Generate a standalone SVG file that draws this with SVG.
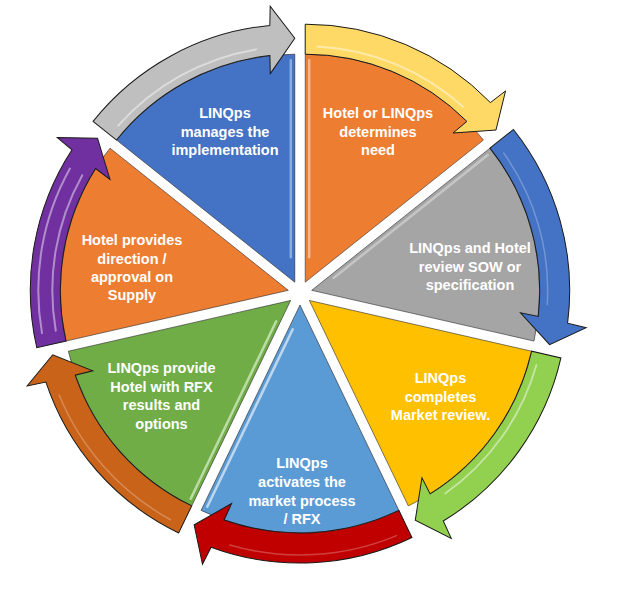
<svg xmlns="http://www.w3.org/2000/svg" xmlns:xlink="http://www.w3.org/1999/xlink" width="644" height="596" viewBox="0 0 644 596">
<style>
.w{stroke:#2b2b2b;stroke-width:0.8;stroke-opacity:0.7}
.a{stroke:#1a1a1a;stroke-width:1;stroke-linejoin:miter}
.hl{fill:none;stroke:#ffffff;stroke-width:2;stroke-opacity:0.45;stroke-linecap:round}
.hl2{fill:none;stroke:#ffffff;stroke-width:1.5;stroke-opacity:0.25;stroke-linecap:round}
.st{stroke-width:2.5;stroke-opacity:0.75;stroke-linecap:round}
text{font-family:"Liberation Sans",Arial,sans-serif;font-weight:bold;font-size:14.5px;fill:#ffffff;text-anchor:middle}
</style>
<defs>
<path id="wedge" d="M0,0 L0,-228 A228,228 0 0 1 178.257,-142.156 Z"/>
<path id="arrow" d="M0,-258 A258,258 0 0 1 185.20,-179.62 L200.36,-191.27 L190.77,-152.13 L147.79,-149.19 L161.67,-160.77 A228,228 0 0 0 0,-228 Z"/>
<path id="hlA" d="M12.35,-235.68 A236,236 0 0 1 157.91,-175.38"/>
<path id="hlB" d="M13.08,-249.66 A250,250 0 0 1 167.28,-185.79"/>
<line id="s0" x1="4" y1="-25" x2="4" y2="-222"/>
<line id="s1" x1="17.05" y1="-18.72" x2="171.07" y2="-141.54"/>
</defs>
<rect width="644" height="596" fill="#ffffff"/>

<g id="node1">
<g transform="translate(305.21,282.19) rotate(0)">
<use xlink:href="#wedge" class="w" fill="#ED7D31"/>
<use xlink:href="#s0" class="st" stroke="#F8CBAD"/>
</g>
<text x="378" y="118">Hotel or LINQps</text>
<text x="378" y="137">determines</text>
<text x="378" y="155">need</text>
</g>

<g id="node2">
<g transform="translate(311.70,290.33) rotate(51.4286)">
<use xlink:href="#wedge" class="w" fill="#A5A5A5"/>
<use xlink:href="#s0" class="st" stroke="#D0D0D0"/>
</g>
<text x="470" y="253">LINQps and Hotel</text>
<text x="470" y="272">review SOW or</text>
<text x="470" y="290">specification</text>
</g>

<g id="node3">
<g transform="translate(309.38,300.48) rotate(102.8571)">
<use xlink:href="#wedge" class="w" fill="#FFC000"/>
</g>
<text x="440.5" y="383">LINQps</text>
<text x="440.5" y="402">completes</text>
<text x="440.5" y="420">Market review.</text>
</g>

<g id="node4">
<g transform="translate(300,305) rotate(154.2857)">
<use xlink:href="#wedge" class="w" fill="#5B9BD5"/>
<use xlink:href="#s1" class="st" stroke="#DEEBF7"/>
</g>
<text x="302" y="468">LINQps</text>
<text x="302" y="487">activates the</text>
<text x="302" y="506">market process</text>
<text x="302" y="524">/ RFX</text>
</g>

<g id="node5">
<g transform="translate(290.62,300.48) rotate(205.7143)">
<use xlink:href="#wedge" class="w" fill="#70AD47"/>
<use xlink:href="#s0" class="st" stroke="#D5ECC6"/>
</g>
<text x="161.5" y="373">LINQps provide</text>
<text x="161.5" y="391.5">Hotel with RFX</text>
<text x="161.5" y="410">results and</text>
<text x="161.5" y="428.5">options</text>
</g>

<g id="node6">
<g transform="translate(288.30,290.33) rotate(257.1429)">
<use xlink:href="#wedge" class="w" fill="#ED7D31"/>
</g>
<text x="132" y="245">Hotel provides</text>
<text x="132" y="263.5">direction /</text>
<text x="132" y="282">approval on</text>
<text x="132" y="300">Supply</text>
</g>

<g id="node7">
<g transform="translate(294.79,282.19) rotate(308.5714)">
<use xlink:href="#wedge" class="w" fill="#4472C4"/>
<use xlink:href="#s1" class="st" stroke="#9DC3E6"/>
</g>
<text x="225" y="118">LINQps</text>
<text x="225" y="137">manages the</text>
<text x="225" y="155">implementation</text>
</g>

<g id="connectors">
<g transform="translate(305.21,282.19) rotate(0)">
<use xlink:href="#arrow" class="a" fill="#FFD966"/>
<use xlink:href="#hlA" class="hl"/>
</g>
<g transform="translate(311.70,290.33) rotate(51.4286)">
<use xlink:href="#arrow" class="a" fill="#4472C4"/>
<use xlink:href="#hlA" class="hl2"/>
</g>
<g transform="translate(309.38,300.48) rotate(102.8571)">
<use xlink:href="#arrow" class="a" fill="#92D050"/>
<use xlink:href="#hlA" class="hl"/>
</g>
<g transform="translate(300,305) rotate(154.2857)">
<use xlink:href="#arrow" class="a" fill="#C00000"/>
<use xlink:href="#hlB" class="hl2"/>
</g>
<g transform="translate(290.62,300.48) rotate(205.7143)">
<use xlink:href="#arrow" class="a" fill="#C9631A"/>
<use xlink:href="#hlB" class="hl2"/>
</g>
<g transform="translate(288.30,290.33) rotate(257.1429)">
<use xlink:href="#arrow" class="a" fill="#7030A0"/>
<use xlink:href="#hlA" class="hl"/>
<use xlink:href="#hlB" class="hl"/>
</g>
<g transform="translate(294.79,282.19) rotate(308.5714)">
<use xlink:href="#arrow" class="a" fill="#BFBFBF"/>
<use xlink:href="#hlA" class="hl"/>
</g>
</g>
</svg>
